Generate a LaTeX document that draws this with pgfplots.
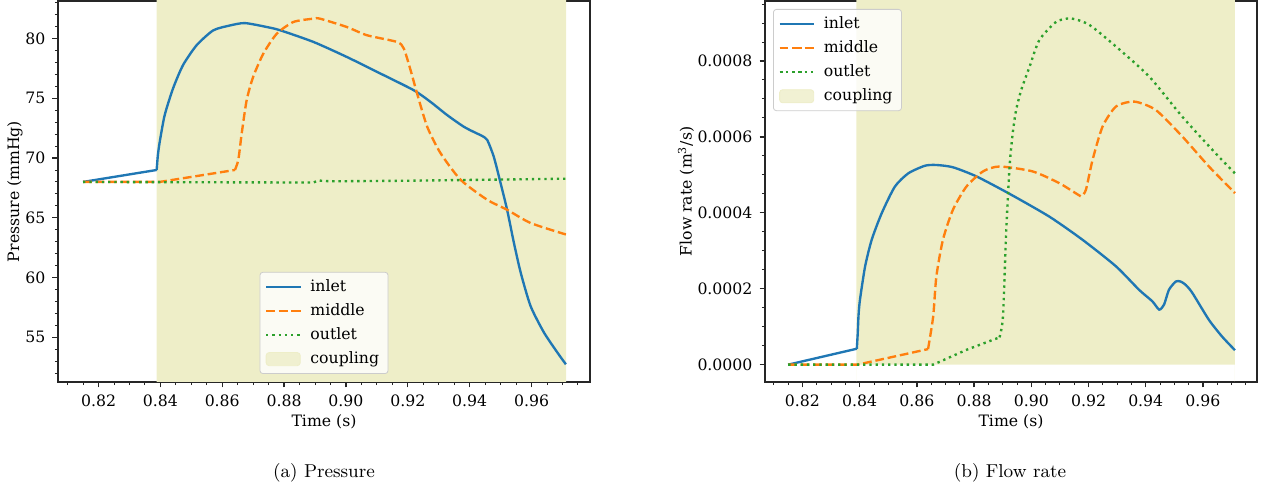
\documentclass[border=0pt]{standalone}
\usepackage{fontspec}
\usepackage{pgfplots}
\pgfplotsset{compat=1.18}
\newfontfamily\mplfont{DejaVu Serif}
\definecolor{c0}{HTML}{1F77B4}
\definecolor{c1}{HTML}{FF7F0E}
\definecolor{c2}{HTML}{2CA02C}
\definecolor{cpl}{RGB}{238,238,200}
\newcommand{\mplsize}{\mplfont\fontsize{7.85}{9.4}\selectfont}

\pgfplotsset{mplstyle/.style={
  scale only axis,
  anchor=south west,
  height=190.5pt,
  axis line style={black!85, line width=0.63pt},
  tick align=outside,
  xtick pos=bottom, ytick pos=left,
  major tick style={black!85, line width=0.63pt},
  minor tick style={black!85, line width=0.47pt},
  major tick length=2.75pt, minor tick length=1.6pt,
  font=\mplsize,
  /pgf/number format/assume math mode=true,
  xmin=0.8069, xmax=0.9789,
  xtick={0.82,0.84,0.86,0.88,0.90,0.92,0.94,0.96},
  xticklabels={0.82,0.84,0.86,0.88,0.90,0.92,0.94,0.96},
  minor xtick={0.81,0.815,0.825,0.83,0.835,0.845,0.85,0.855,0.865,0.87,0.875,0.885,0.89,0.895,0.905,0.91,0.915,0.925,0.93,0.935,0.945,0.95,0.955,0.965,0.97,0.975},
  xlabel={Time (s)},
  xlabel style={at={(axis description cs:0.5,-0.105)}, anchor=center},
  legend cell align=left,
  legend style={font=\mplsize, draw=black!20, fill=white, fill opacity=0.8, text opacity=1, draw opacity=1,
    rounded corners=1.5pt, inner xsep=2.5pt, inner ysep=1.5pt, row sep=0.6pt,
    /tikz/every odd column/.append style={column sep=2.5pt}},
  line1/.style={c0, line width=1.18pt, solid},
  line2/.style={c1, line width=1.18pt, dash pattern=on 4.36pt off 1.9pt},
  line3/.style={c2, line width=1.18pt, dash pattern=on 1.18pt off 1.94pt},
  cleg/.style={legend image code/.code={\fill[cpl] (0cm,-0.115cm) rectangle (0.6cm,0.115cm);}},
}}

\begin{document}
\begin{tikzpicture}
\useasboundingbox (0,0) rectangle (635.5pt,245pt);

% ---------------- (a) Pressure ----------------
\begin{axis}[mplstyle,
  at={(29pt,54pt)}, width=266pt,
  ymin=51.25, ymax=83.15,
  ytick={55,60,65,70,75,80},
  yticklabels={55,60,65,70,75,80},
  minor ytick={52,53,54,56,57,58,59,61,62,63,64,66,67,68,69,71,72,73,74,76,77,78,79,81,82,83},
  ylabel={Pressure (mmHg)},
  ylabel style={at={(axis description cs:-0.0808,0.5)}, anchor=center},
  legend style={at={(axis description cs:0.5,0.021)}, anchor=south},
]
\addplot[fill=cpl, draw=none, forget plot] coordinates {(0.8388,40) (0.8388,90) (0.9712,90) (0.9712,40)} \closedcycle;

% inlet
\addplot[line1, forget plot] coordinates {(0.815,68.0) (0.8388,69.0)};
\addplot[line1, smooth, tension=0.4] coordinates {
(0.8388,69.0) (0.8392,70.26) (0.8398,71.37) (0.8414,73.6) (0.8441,75.83) (0.8473,77.77)
(0.8517,79.44) (0.8571,80.69) (0.8625,81.1) (0.8673,81.3) (0.8744,80.97) (0.8787,80.7)
(0.8895,79.72) (0.9003,78.46) (0.9111,77.08) (0.9219,75.68) (0.9273,74.71) (0.9327,73.6)
(0.9381,72.62) (0.9420,72.1) (0.9441,71.84) (0.9457,71.5) (0.9478,70.1) (0.9500,67.9)
(0.9521,65.67) (0.9543,62.9) (0.9565,60.4) (0.9597,57.6) (0.9640,55.4) (0.9684,53.7) (0.9711,52.73)
};
\addlegendentry{inlet}

% middle
\addplot[line2, forget plot] coordinates {(0.815,68.0) (0.8398,68.0) (0.8641,69.0)};
\addplot[line2, smooth, tension=0.4] coordinates {
(0.8641,69.0) (0.8652,69.85) (0.8663,72.07) (0.8679,74.85)
(0.8700,76.8) (0.8733,78.75) (0.8776,80.4) (0.8830,81.39) (0.8895,81.67) (0.8916,81.67)
(0.9003,80.97) (0.9068,80.28) (0.9165,79.72) (0.9187,79.17) (0.9209,77.35) (0.9230,75.4)
(0.9263,72.6) (0.9306,70.4) (0.9371,68.17) (0.9457,66.5) (0.9521,65.67) (0.9597,64.56) (0.9711,63.6)
};
\addlegendentry{middle}

% outlet
\addplot[line3] coordinates {
(0.815,68.0) (0.8388,67.98) (0.8895,67.95) (0.891,68.12) (0.895,68.05) (0.92,68.1) (0.95,68.2) (0.9711,68.27)
};
\addlegendentry{outlet}

\addlegendimage{cleg}
\addlegendentry{coupling}
\end{axis}

% ---------------- (b) Flow rate ----------------
\begin{axis}[mplstyle,
  at={(382.5pt,54pt)}, width=246pt,
  ymin=-0.0000456, ymax=0.000958,
  scaled y ticks=false,
  ytick={0,0.0002,0.0004,0.0006,0.0008},
  yticklabels={0.0000,0.0002,0.0004,0.0006,0.0008},
  minor ytick={0.00005,0.0001,0.00015,0.00025,0.0003,0.00035,0.00045,0.0005,0.00055,0.00065,0.0007,0.00075,0.00085,0.0009,0.00095},
  ylabel={Flow rate (m\textsuperscript{3}/s)},
  ylabel style={at={(axis description cs:-0.1606,0.5)}, anchor=center},
  legend style={at={(axis description cs:0.0163,0.979)}, anchor=north west},
]
\addplot[fill=cpl, draw=none, forget plot] coordinates {(0.8388,-0.001) (0.8388,0.002) (0.9712,0.002) (0.9712,-0.001)} \closedcycle;

% inlet
\addplot[line1, forget plot] coordinates {(0.815,0) (0.8390,0.42e-4)};
\addplot[line1, smooth, tension=0.4] coordinates {
(0.8390,0.42e-4) (0.8393,0.8e-4) (0.8396,1.3e-4) (0.8401,1.71e-4) (0.8419,2.59e-4) (0.8442,3.29e-4)
(0.8477,3.99e-4) (0.8523,4.69e-4) (0.8570,5.04e-4) (0.8628,5.24e-4) (0.8668,5.26e-4) (0.8726,5.20e-4)
(0.8808,4.96e-4) (0.8924,4.50e-4) (0.9063,3.90e-4) (0.9179,3.29e-4) (0.9296,2.59e-4)
(0.9377,1.97e-4) (0.9423,1.67e-4) (0.9447,1.45e-4) (0.9464,1.58e-4) (0.9481,1.97e-4)
(0.9505,2.19e-4) (0.9522,2.19e-4) (0.9540,2.10e-4) (0.9563,1.89e-4) (0.9621,1.18e-4)
(0.9667,0.74e-4) (0.9712,0.38e-4)
};
\addlegendentry{inlet}

% middle
\addplot[line2, forget plot] coordinates {(0.815,0) (0.8392,0) (0.8639,0.41e-4)};
\addplot[line2, smooth, tension=0.4] coordinates {
(0.8639,0.41e-4) (0.8657,1.27e-4) (0.8668,2.32e-4) (0.8691,3.29e-4)
(0.8726,4.08e-4) (0.8773,4.69e-4) (0.8831,5.09e-4) (0.8889,5.22e-4) (0.9005,5.09e-4)
(0.9098,4.78e-4) (0.9165,4.47e-4) (0.9176,4.44e-4) (0.9191,4.61e-4) (0.9214,5.39e-4)
(0.9249,6.27e-4) (0.9296,6.80e-4) (0.9360,6.93e-4) (0.9435,6.71e-4) (0.9528,6.01e-4)
(0.9621,5.22e-4) (0.9712,4.52e-4)
};
\addlegendentry{middle}

% outlet
\addplot[line3, forget plot] coordinates {(0.815,0) (0.8657,0) (0.8773,0.39e-4) (0.8889,0.72e-4)};
\addplot[line3, smooth, tension=0.4] coordinates {
(0.8889,0.72e-4) (0.8901,1.27e-4) (0.8912,3.47e-4)
(0.8924,5.22e-4) (0.8935,6.10e-4) (0.8947,6.71e-4) (0.8965,7.24e-4) (0.8994,7.85e-4)
(0.9028,8.55e-4) (0.9087,9.03e-4) (0.9139,9.12e-4) (0.9203,8.95e-4) (0.9296,8.38e-4)
(0.9412,7.59e-4) (0.9528,6.53e-4) (0.9644,5.57e-4) (0.9712,5.04e-4)
};
\addlegendentry{outlet}

\addlegendimage{cleg}
\addlegendentry{coupling}
\end{axis}

\node[font=\fontsize{9.33}{11}\selectfont] at (162pt,8.5pt) {(a) Pressure};
\node[font=\fontsize{9.33}{11}\selectfont] at (505pt,8.5pt) {(b) Flow rate};
\end{tikzpicture}
\end{document}
